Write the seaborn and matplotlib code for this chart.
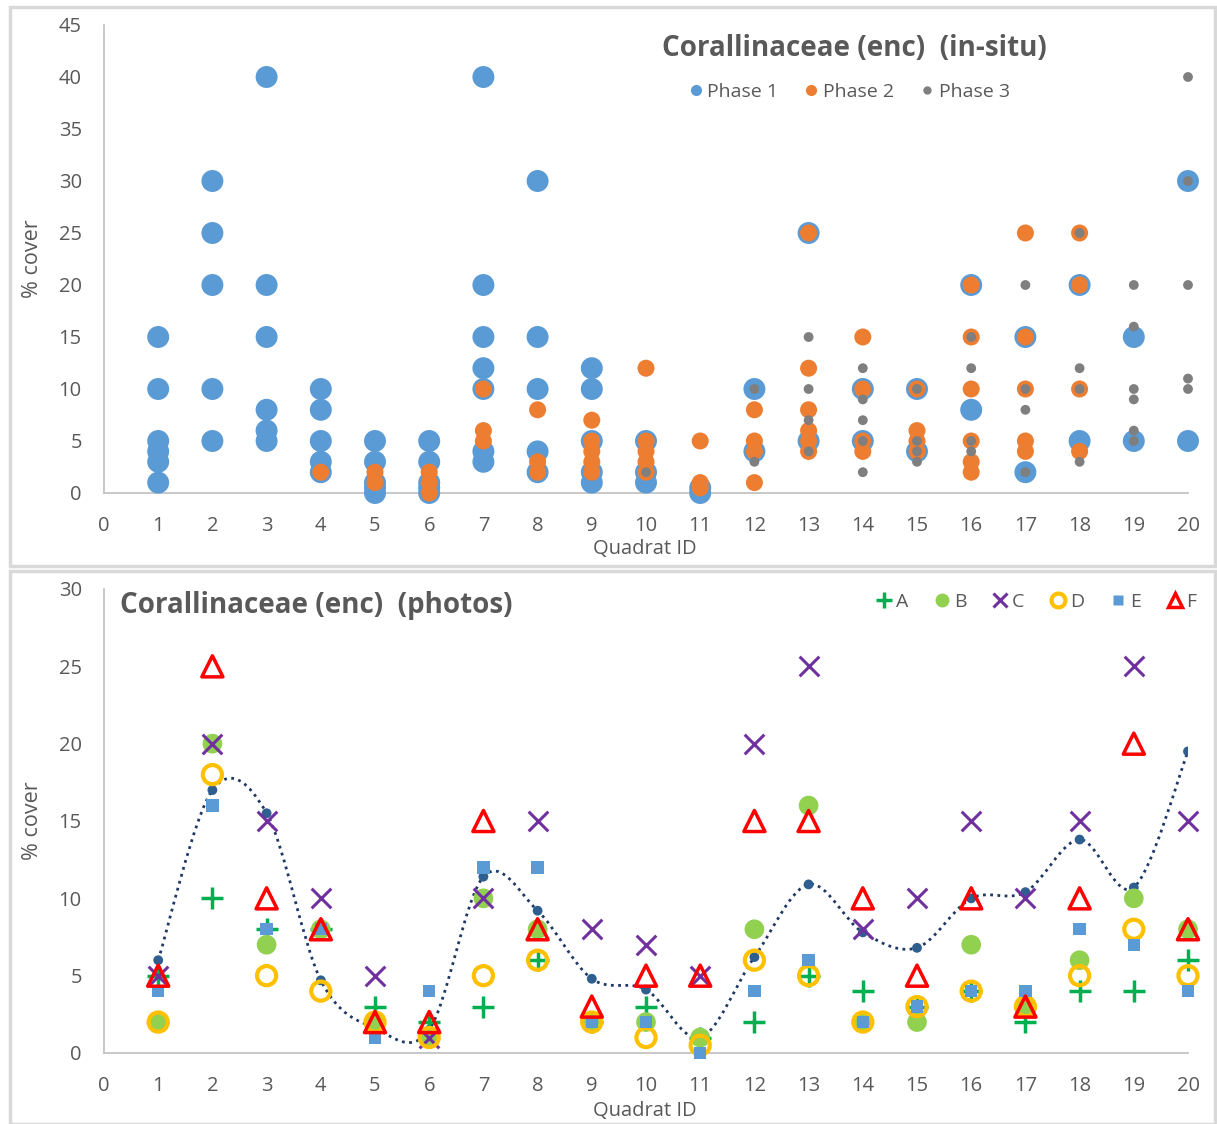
import numpy as np
import pandas as pd
import matplotlib
matplotlib.use("Agg")
import matplotlib.pyplot as plt
from matplotlib.lines import Line2D
from matplotlib.path import Path
from matplotlib.patches import PathPatch, Rectangle
import seaborn as sns

sns.set_theme(style="white")
plt.rcParams['font.family'] = ['Open Sans', 'DejaVu Sans']

# ---- in-situ data: list of % cover values per quadrat (1..20) ----
quadrats = list(range(1, 21))
phase1 = [[15, 10, 5, 4, 3, 1], [30, 25, 20, 10, 5], [40, 20, 15, 8, 6, 5],
          [10, 8, 5, 3, 2], [5, 3, 1, 0.5, 0], [5, 3, 1, 0.5, 0],
          [40, 20, 15, 12, 10, 4, 3], [30, 15, 10, 4, 2], [12, 10, 5, 2, 1],
          [5, 2, 1], [0.5, 0], [10, 4], [25, 5], [10, 5], [10, 4], [20, 8],
          [15, 2], [20, 5], [15, 5], [30, 5]]
phase2 = [[], [], [], [2], [2, 1], [2, 1, 0], [10, 6, 5], [8, 3, 2],
          [7, 5, 4, 3, 2], [12, 5, 4, 3, 2], [5, 1, 0.5], [8, 5, 4, 1],
          [25, 12, 8, 6, 5, 4], [15, 10, 5, 4], [10, 6, 5, 4],
          [20, 15, 10, 5, 3, 2], [25, 15, 10, 5, 4], [25, 20, 10, 4], [], []]
phase3 = [[], [], [], [], [], [], [], [], [], [2], [], [10, 3],
          [15, 10, 7, 4], [12, 9, 7, 5, 2], [10, 5, 4, 3], [15, 12, 5, 4],
          [20, 10, 8, 2], [25, 12, 10, 3], [20, 16, 10, 9, 6, 5],
          [40, 30, 20, 11, 10]]

# ---- photo data: one value per quadrat for each observer ----
obs_A = [5, 10, 8, 8, 3, 2, 3, 6, 2, 3, 1, 2, 5, 4, 3, 4, 2, 4, 4, 6]
obs_B = [2, 20, 7, 8, 2, 1, 10, 8, 2, 2, 1, 8, 16, 2, 2, 7, 3, 6, 10, 8]
obs_C = [5, 20, 15, 10, 5, 1, 10, 15, 8, 7, 5, 20, 25, 8, 10, 15, 10, 15, 25, 15]
obs_D = [2, 18, 5, 4, 2, 1, 5, 6, 2, 1, 0.5, 6, 5, 2, 3, 4, 3, 5, 8, 5]
obs_E = [4, 16, 8, 8, 1, 4, 12, 12, 2, 2, 0, 4, 6, 2, 3, 4, 4, 8, 7, 4]
obs_F = [5, 25, 10, 8, 2, 2, 15, 8, 3, 5, 5, 15, 15, 10, 5, 10, 3, 10, 20, 8]
trend = [6, 17, 15.5, 4.7, 1.6, 1.5, 11.4, 9.2, 4.8, 4.1, 1.0, 6.2, 10.9,
         7.8, 6.8, 10, 10.4, 13.8, 10.7, 19.5]

grey_txt = '#595959'
W, H = 1217, 1124
fig = plt.figure(figsize=(W / 100, H / 100), dpi=100)

# chart area borders (Excel style)
for (x0, y0, x1, y1) in [(10, 7, 1215, 566), (10, 571, 1215, 1124)]:
    fig.patches.append(Rectangle((x0 / W, 1 - y1 / H), (x1 - x0) / W, (y1 - y0) / H,
                                 transform=fig.transFigure, fill=False,
                                 edgecolor='#D9D9D9', lw=2.5))

ax1 = fig.add_axes([104 / W, 1 - 493 / H, 1084 / W, 468 / H])
ax2 = fig.add_axes([104 / W, 1 - 1053 / H, 1084 / W, 464 / H])


def long_df(values, name):
    rows = [(q, v) for q, vals in zip(quadrats, values) for v in vals]
    df = pd.DataFrame(rows, columns=['quadrat', 'cover'])
    df['phase'] = name
    return df


insitu = pd.concat([long_df(phase1, 'Phase 1'), long_df(phase2, 'Phase 2'),
                    long_df(phase3, 'Phase 3')])

phase_style = {'Phase 1': ('#5B9BD5', 250), 'Phase 2': ('#ED7D31', 150),
               'Phase 3': ('#7F7F7F', 50)}
for ph, (col, size) in phase_style.items():
    sns.scatterplot(data=insitu[insitu.phase == ph], x='quadrat', y='cover',
                    color=col, s=size, edgecolor='none', ax=ax1, clip_on=False,
                    zorder=3, legend=False)

# ---- bottom panel ----
# smoothed trend line (Excel-style bezier through the trend points)
pts = np.column_stack([quadrats, trend])
verts = [tuple(pts[0])]
codes = [Path.MOVETO]
for i in range(len(pts) - 1):
    p_prev = pts[i - 1] if i > 0 else pts[i]
    p_next2 = pts[i + 2] if i + 2 < len(pts) else pts[i + 1]
    c1 = pts[i] + (pts[i + 1] - p_prev) / 6
    c2 = pts[i + 1] - (p_next2 - pts[i]) / 6
    verts += [tuple(c1), tuple(c2), tuple(pts[i + 1])]
    codes += [Path.CURVE4] * 3
ax2.add_patch(PathPatch(Path(verts, codes), facecolor='none', edgecolor='#1F3864',
                        lw=2, linestyle=(0, (1, 1.6)), zorder=2))
sns.scatterplot(x=quadrats, y=trend, color='#2E5F8F', s=50, edgecolor='none',
                ax=ax2, zorder=2, legend=False)

photo_series = [
    ('A', obs_A, dict(marker='+', color='#00B050', s=260, linewidth=2.5)),
    ('B', obs_B, dict(marker='o', color='#92D050', s=200, edgecolor='none')),
    ('C', obs_C, dict(marker='x', color='#7030A0', s=200, linewidth=2.2)),
    ('D', obs_D, dict(marker='o', color='#FFC000', facecolor='none',
                      edgecolor='#FFC000', s=190, linewidth=3)),
    ('E', obs_E, dict(marker='s', color='#5B9BD5', s=80, edgecolor='none')),
    ('F', obs_F, dict(marker='^', color='#FF0000', facecolor='none',
                      edgecolor='#FF0000', s=230, linewidth=2.5)),
]
for name, vals, kw in photo_series:
    sns.scatterplot(x=quadrats, y=vals, ax=ax2, clip_on=False, zorder=3,
                    legend=False, **kw)

# ---- axes styling ----
for ax, ymax in [(ax1, 45), (ax2, 30)]:
    ax.set_xlim(0, 20)
    ax.set_ylim(0, ymax)
    ax.set_xticks(range(0, 21))
    ax.set_yticks(range(0, ymax + 1, 5))
    ax.tick_params(length=0, labelsize=14.5, colors=grey_txt)
    ax.tick_params(axis='x', pad=16.5)
    ax.tick_params(axis='y', pad=16)
    ax.set_xlabel('')
    ax.set_ylabel('')
    for side in ['top', 'right']:
        ax.spines[side].set_visible(False)
    for side in ['left', 'bottom']:
        ax.spines[side].set_color('#BFBFBF')
        ax.spines[side].set_linewidth(1.2)
    ax.set_facecolor('white')
    ax.grid(False)

fig.text(33 / W, 1 - 259 / H, '% cover', rotation=90, ha='center', va='center',
         fontsize=15.5, color=grey_txt)
fig.text(33 / W, 1 - 821 / H, '% cover', rotation=90, ha='center', va='center',
         fontsize=15.5, color=grey_txt)
fig.text(645 / W, 1 - 549 / H, 'Quadrat ID', ha='center', va='center',
         fontsize=14.5, color=grey_txt)
fig.text(645 / W, 1 - 1111 / H, 'Quadrat ID', ha='center', va='center',
         fontsize=14.5, color=grey_txt)

fig.text(854 / W, 1 - 49 / H, 'Corallinaceae (enc)  (in-situ)', ha='center',
         va='center', fontsize=20, fontweight='bold', color=grey_txt)
fig.text(120 / W, 1 - 606 / H, 'Corallinaceae (enc)  (photos)', ha='left',
         va='center', fontsize=20, fontweight='bold', color=grey_txt)

h_top = [Line2D([], [], marker='o', linestyle='None', color=c, markeredgecolor='none',
                markersize=ms, label=lab)
         for lab, c, ms in [('Phase 1', '#5B9BD5', 8), ('Phase 2', '#ED7D31', 8),
                            ('Phase 3', '#7F7F7F', 6)]]
leg1 = ax1.legend(handles=h_top, loc='center', bbox_to_anchor=(848 / W, 1 - 92 / H),
                  bbox_transform=fig.transFigure, ncol=3, frameon=False,
                  fontsize=14, handletextpad=0.1, columnspacing=1.2,
                  handlelength=1.0, labelcolor=grey_txt)

h_bot = [
    Line2D([], [], marker='+', linestyle='None', color='#00B050', markersize=11,
           markeredgewidth=2.5, label='A'),
    Line2D([], [], marker='o', linestyle='None', color='#92D050', markersize=10,
           markeredgecolor='none', label='B'),
    Line2D([], [], marker='x', linestyle='None', color='#7030A0', markersize=10,
           markeredgewidth=2.2, label='C'),
    Line2D([], [], marker='o', linestyle='None', color='#FFC000', markerfacecolor='none',
           markersize=10, markeredgewidth=3, label='D'),
    Line2D([], [], marker='s', linestyle='None', color='#5B9BD5', markersize=7,
           markeredgecolor='none', label='E'),
    Line2D([], [], marker='^', linestyle='None', color='#FF0000', markerfacecolor='none',
           markersize=10, markeredgewidth=2.5, label='F'),
]
leg2 = ax2.legend(handles=h_bot, loc='center right',
                  bbox_to_anchor=(1214 / W, 1 - 602 / H),
                  bbox_transform=fig.transFigure, ncol=6, frameon=False,
                  fontsize=14, handletextpad=0.1, columnspacing=1.25,
                  handlelength=1.0, labelcolor=grey_txt)

fig.savefig('out.png', dpi=100, facecolor='white')
